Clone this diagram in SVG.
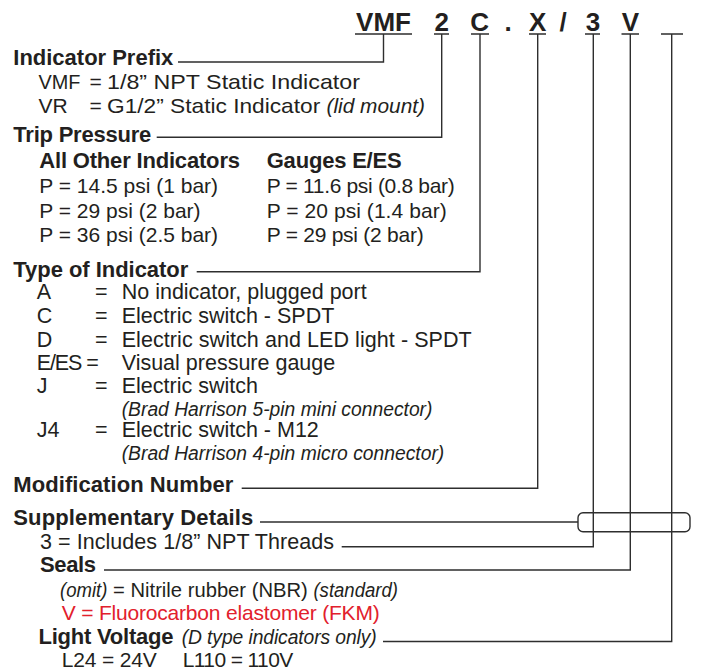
<svg xmlns="http://www.w3.org/2000/svg" width="701" height="671" viewBox="0 0 701 671">
<style>
text{font-family:"Liberation Sans",Arial,sans-serif;fill:#231f20}
.code{font-size:26px;font-weight:bold;text-anchor:middle}
.h{font-size:22px;font-weight:bold}
.t{font-size:21.5px}
.p{font-size:21px}
.i{font-size:19.3px;font-style:italic}
.red{fill:#e2202c}
.ln{stroke:#2e2e2e;stroke-width:1.4;fill:none}
</style>
<rect width="701" height="671" fill="#fff"/>
<g id="code">
<text class="code" x="383.5" y="31">VMF</text>
<text class="code" x="441.7" y="31">2</text>
<text class="code" x="479.7" y="31">C</text>
<text class="code" x="508" y="31">.</text>
<text class="code" x="537.7" y="31">X</text>
<text class="code" x="563" y="31">/</text>
<text class="code" x="593" y="31">3</text>
<text class="code" x="630.3" y="31">V</text>
<path class="ln" d="M355 34H412M434 34H449M471 34H489M529 34H546M585 34H600M621.5 34H639M661 34H683"/>
</g>
<g id="connectors">
<path class="ln" d="M383.5 34V62H178"/>
<path class="ln" d="M441.7 34V137.3H156.7"/>
<path class="ln" d="M480 34V271.7H196.7"/>
<path class="ln" d="M537.7 34V488.3H241.7"/>
<path class="ln" d="M593.3 34V546.7H341.7"/>
<path class="ln" d="M630.3 34V570H104"/>
<path class="ln" d="M671.7 34V641.5H383"/>
<path class="ln" d="M260 522H578"/>
<rect class="ln" x="578" y="512.7" width="112" height="19" rx="5"/>
</g>
<g id="indicator-prefix">
<text class="h" x="13.3" y="65" textLength="160">Indicator Prefix</text>
<text class="p" x="38.5" y="88.5" textLength="42" lengthAdjust="spacingAndGlyphs">VMF</text><text class="p" x="89.5" y="88.5">=</text><text class="p" x="107" y="88.5" textLength="253" lengthAdjust="spacingAndGlyphs">1/8” NPT Static Indicator</text>
<text class="p" x="38.5" y="113.3">VR</text><text class="p" x="89.5" y="113.3">=</text><text class="p" x="107" y="113.3" textLength="318" lengthAdjust="spacingAndGlyphs">G1/2” Static Indicator <tspan class="i" font-size="18.5px">(lid mount)</tspan></text>
</g>
<g id="trip-pressure">
<text class="h" x="13.3" y="141.7" textLength="138">Trip Pressure</text>
<text class="h" x="39.3" y="168.3" textLength="200.7">All Other Indicators</text>
<text class="h" x="266.7" y="168.3" textLength="135">Gauges E/ES</text>
<text class="p" x="39.3" y="193.3">P = 14.5 psi (1 bar)</text>
<text class="p" x="39.3" y="217.5">P = 29 psi (2 bar)</text>
<text class="p" x="39.3" y="241.7">P = 36 psi (2.5 bar)</text>
<text class="p" x="266.7" y="193.3" textLength="188">P = 11.6 psi (0.8 bar)</text>
<text class="p" x="266.7" y="217.5" textLength="180">P = 20 psi (1.4 bar)</text>
<text class="p" x="266.7" y="241.7" textLength="157">P = 29 psi (2 bar)</text>
</g>
<g id="type-of-indicator">
<text class="h" x="13.3" y="276.7" textLength="175">Type of Indicator</text>
<text class="t" x="36.7" y="299.3">A</text><text class="t" x="95" y="299.3">=</text><text class="t" x="121.7" y="299.3">No indicator, plugged port</text>
<text class="t" x="36.7" y="323">C</text><text class="t" x="95" y="323">=</text><text class="t" x="121.7" y="323">Electric switch - SPDT</text>
<text class="t" x="36.7" y="346.7">D</text><text class="t" x="95" y="346.7">=</text><text class="t" x="121.7" y="346.7" textLength="350">Electric switch and LED light - SPDT</text>
<text class="t" x="36.7" y="370.3" textLength="62">E/ES =</text><text class="t" x="121.7" y="370.3">Visual pressure gauge</text>
<text class="t" x="36.7" y="393.3">J</text><text class="t" x="95" y="393.3">=</text><text class="t" x="121.7" y="393.3">Electric switch</text>
<text class="i" x="121.7" y="415.7">(Brad Harrison 5-pin mini connector)</text>
<text class="t" x="36.7" y="436.7">J4</text><text class="t" x="95" y="436.7">=</text><text class="t" x="121.7" y="436.7">Electric switch - M12</text>
<text class="i" x="121.7" y="460">(Brad Harrison 4-pin micro connector)</text>
</g>
<g id="modification-number">
<text class="h" x="13.3" y="491.7" textLength="220">Modification Number</text>
</g>
<g id="supplementary-details">
<text class="h" x="13.3" y="525" textLength="240">Supplementary Details</text>
<text class="t" x="40" y="549" textLength="294">3 = Includes 1/8” NPT Threads</text>
</g>
<g id="seals">
<text class="h" x="40" y="572" textLength="56">Seals</text>
<text class="p" x="60" y="596.7" textLength="338" lengthAdjust="spacingAndGlyphs"><tspan class="i" font-size="18.5px">(omit)</tspan> = Nitrile rubber (NBR) <tspan class="i" font-size="18.5px">(standard)</tspan></text>
<text class="p red" x="61.7" y="620.3" textLength="318">V = Fluorocarbon elastomer (FKM)</text>
</g>
<g id="light-voltage">
<text class="h" x="38.5" y="644.3" textLength="135">Light Voltage</text>
<text class="i" x="181.7" y="644.3" textLength="195">(D type indicators only)</text>
<text class="p" x="61.7" y="666.7" textLength="95">L24 = 24V</text>
<text class="p" x="182.7" y="666.7" textLength="110.6">L110 = 110V</text>
</g>
</svg>
